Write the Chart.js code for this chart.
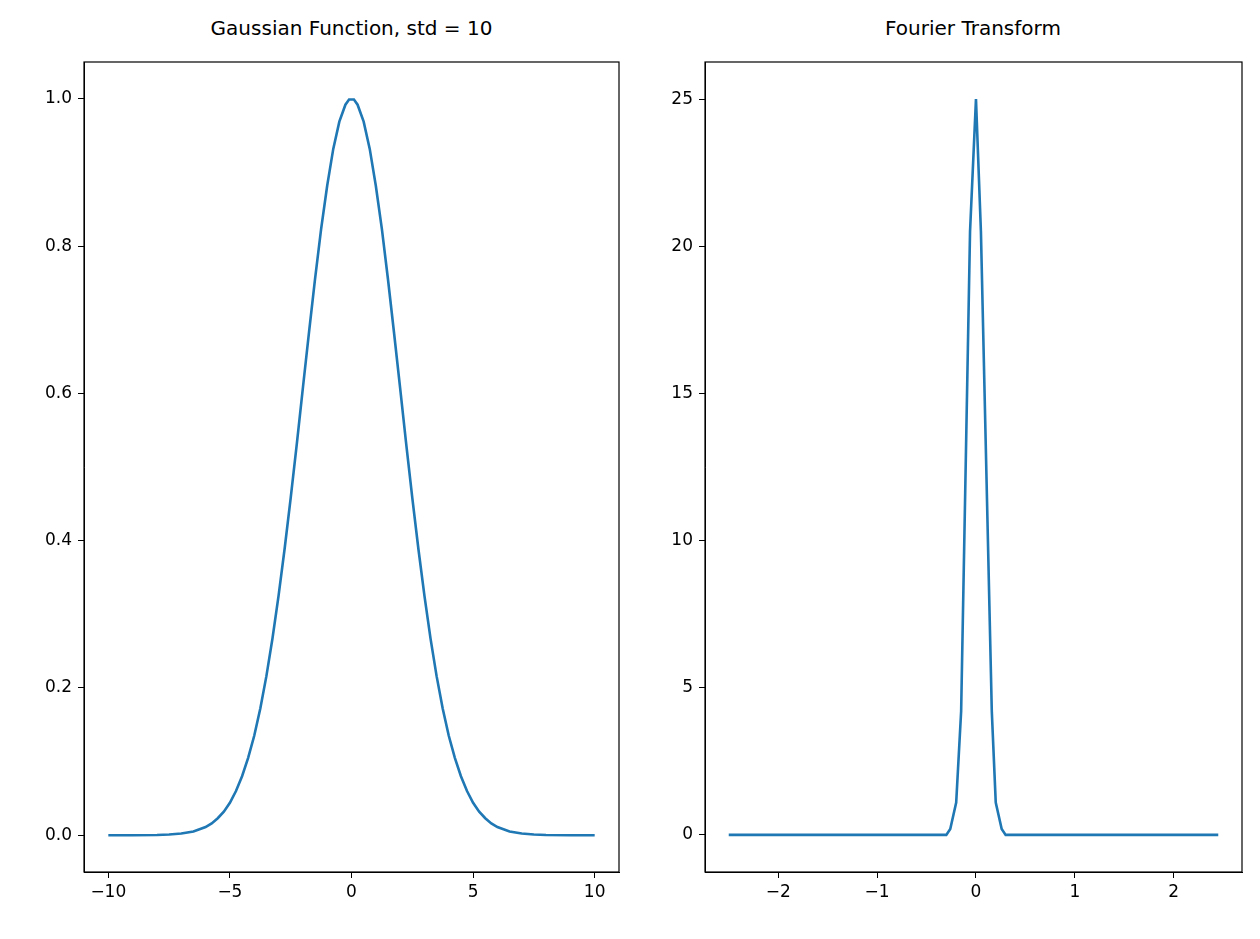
<!DOCTYPE html>
<html><head><meta charset="utf-8">
<script src="https://cdn.jsdelivr.net/npm/chart.js@4"></script>
<style>
body{margin:0;background:#fff;width:1260px;height:939px;position:relative;overflow:hidden;font-family:"DejaVu Sans",sans-serif}
canvas{position:absolute;top:0}
.t{position:absolute;top:16px;font-size:20px;text-align:center;color:#000}
</style></head><body>
<div class="t" style="left:84px;width:535px">Gaussian Function, std = 10</div>
<div class="t" style="left:705px;width:536px">Fourier Transform</div>
<div style="position:absolute;left:0;top:0;width:630px;height:939px"><canvas id="c1"></canvas></div>
<div style="position:absolute;left:621px;top:0;width:630px;height:939px"><canvas id="c2"></canvas></div>
<script>
const gaussX=[-10,-9,-8,-7.5,-7,-6.5,-6,-5.75,-5.5,-5.25,-5,-4.75,-4.5,-4.25,-4,-3.75,-3.5,-3.25,-3,-2.75,-2.5,-2.25,-2,-1.75,-1.5,-1.25,-1,-0.75,-0.5,-0.25,-0.1,0.1,0.25,0.5,0.75,1,1.25,1.5,1.75,2,2.25,2.5,2.75,3,3.25,3.5,3.75,4,4.25,4.5,4.75,5,5.25,5.5,5.75,6,6.5,7,7.5,8,9,10];
const gaussY=[0,0,0.0003,0.0009,0.0022,0.0051,0.011,0.016,0.023,0.032,0.044,0.060,0.080,0.105,0.135,0.172,0.216,0.267,0.325,0.389,0.458,0.531,0.607,0.682,0.755,0.823,0.882,0.932,0.969,0.992,0.999,0.999,0.992,0.969,0.932,0.882,0.823,0.755,0.682,0.607,0.531,0.458,0.389,0.325,0.267,0.216,0.172,0.135,0.105,0.080,0.060,0.044,0.032,0.023,0.016,0.011,0.0051,0.0022,0.0009,0.0003,0,0];
const ftX=[-2.5,-0.3,-0.26,-0.2,-0.15,-0.06,0,0.05,0.16,0.2,0.26,0.3,2.45];
const ftY=[0,0,0.2,1.1,4.2,20.5,25,20.5,4.2,1.1,0.2,0,0];
const leftTicksX=[-10,-5,0,5,10], leftTicksY=[0,0.2,0.4,0.6,0.8,1.0];
const rightTicksX=[-2,-1,0,1,2], rightTicksY=[0,5,10,15,20,25];
Chart.defaults.font.family='"DejaVu Sans"';Chart.defaults.font.size=17;Chart.defaults.color='#000';
const box={id:'box',afterDraw(c){const a=c.chartArea,x=c.ctx;x.save();x.strokeStyle='#000';x.lineWidth=1.2;x.strokeRect(a.left,a.top,a.right-a.left,a.bottom-a.top);x.restore();}};
function fmt(d){return v=>(v<0?'\u2212':'')+Math.abs(v).toFixed(d);}
function make(id,xs,ys,xr,yr,tx,ty,dx,dy,yw,right){
 new Chart(document.getElementById(id),{type:'line',
  data:{datasets:[{data:xs.map((x,i)=>({x,y:ys[i]})),borderColor:'#1f77b4',borderWidth:2.6,pointRadius:0,tension:0}]},
  options:{responsive:true,maintainAspectRatio:false,animation:false,
   layout:{padding:{top:62,right:right}},
   plugins:{legend:{display:false},tooltip:{enabled:false}},
   scales:{
    x:{type:'linear',min:xr[0],max:xr[1],afterBuildTicks:s=>{s.ticks=tx.map(v=>({value:v}))},afterFit:s=>{s.height=67},
       ticks:{callback:fmt(dx),maxRotation:0,padding:4},grid:{drawOnChartArea:false,tickLength:6,color:'#000'},border:{color:'#000'}},
    y:{min:yr[0],max:yr[1],afterBuildTicks:s=>{s.ticks=ty.map(v=>({value:v}))},afterFit:s=>{s.width=yw},
       ticks:{callback:fmt(dy),padding:6},grid:{drawOnChartArea:false,tickLength:6,color:'#000'},border:{color:'#000'}}}},
  plugins:[box]});
}
make('c1',gaussX,gaussY,[-11,11],[-0.05,1.05],leftTicksX,leftTicksY,0,1,84,11);
make('c2',ftX,ftY,[-2.74,2.69],[-1.26,26.26],rightTicksX,rightTicksY,0,0,84,9);
</script></body></html>
